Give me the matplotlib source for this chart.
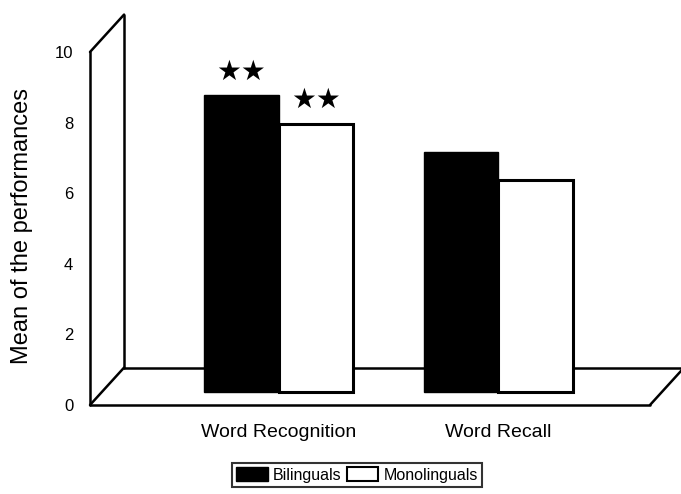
import matplotlib
matplotlib.use("Agg")
import matplotlib.pyplot as plt
from matplotlib.patches import Patch
import numpy as np

# data
categories = ["Word Recognition", "Word Recall"]
bilinguals = [8.4, 6.8]
monolinguals = [7.6, 6.0]
stars_bi = ["★★", ""]
stars_mono = ["★★", ""]
yticks = [0, 2, 4, 6, 8, 10]

plt.rcParams["font.family"] = ["Liberation Sans", "DejaVu Sans"]

fig = plt.figure(figsize=(6.81, 4.94), dpi=100)
# front plane of the pseudo-3D box
ax = fig.add_axes([90 / 681, 89 / 494, 560 / 681, 353 / 494])

x = np.arange(len(categories))
w = 0.34
xl, xr = -0.858, 1.69      # front plane x range
dx, dy = 0.155, 1.06       # depth offset
base = 0.35 * dy           # bars stand partly back on the floor

ax.set_xlim(xl, xr)
ax.set_ylim(0, 10)
for s in ax.spines.values():
    s.set_visible(False)

lk = dict(color="black", lw=1.8, clip_on=False, solid_capstyle="round", zorder=1)
# side wall
ax.plot([xl, xl], [0, 10], **lk)
ax.plot([xl + dx, xl + dx], [dy, 10 + dy], **lk)
ax.plot([xl, xl + dx], [10, 10 + dy], **lk)
ax.plot([xl, xl + dx], [0, dy], **lk)
# floor
ax.plot([xl + dx, xr + dx], [dy, dy], **lk)
ax.plot([xl, xr], [0, 0], **lk)
ax.plot([xr, xr + dx], [0, dy], **lk)

ax.bar(x - w / 2, bilinguals, w, bottom=base, color="black", edgecolor="black",
       linewidth=1, zorder=3, label="Bilinguals")
ax.bar(x + w / 2, monolinguals, w, bottom=base, color="white", edgecolor="black",
       linewidth=2.2, zorder=3, label="Monolinguals")

for i in range(len(categories)):
    if stars_bi[i]:
        ax.annotate(stars_bi[i], (x[i] - w / 2, bilinguals[i] + base), xytext=(0, 7),
                    textcoords="offset points", ha="center", va="bottom",
                    fontsize=20, family="DejaVu Sans")
    if stars_mono[i]:
        ax.annotate(stars_mono[i], (x[i] + w / 2, monolinguals[i] + base), xytext=(0, 7),
                    textcoords="offset points", ha="center", va="bottom",
                    fontsize=20, family="DejaVu Sans")

ax.set_yticks(yticks)
ax.set_yticklabels([str(t) for t in yticks], fontsize=12)
ax.set_xticks(x)
ax.set_xticklabels(categories, fontsize=14)
ax.tick_params(axis="y", length=0, pad=12)
ax.tick_params(axis="x", length=0, pad=14)

fig.text(22 / 681, 1 - 226 / 494, "Mean of the performances", rotation=90,
         ha="center", va="center", fontsize=17)

handles = [Patch(facecolor="black", edgecolor="black"),
           Patch(facecolor="white", edgecolor="black", linewidth=1.5)]
leg = fig.legend(handles, ["Bilinguals", "Monolinguals"], loc="center",
                 bbox_to_anchor=(357 / 681, 1 - 475 / 494), ncol=2, fontsize=11.5,
                 frameon=True, fancybox=False, edgecolor="black",
                 handlelength=2.0, handleheight=0.9, handletextpad=0.3,
                 columnspacing=0.3, borderpad=0.3)
leg.get_frame().set_linewidth(1.5)

fig.savefig("out.png", dpi=100)
